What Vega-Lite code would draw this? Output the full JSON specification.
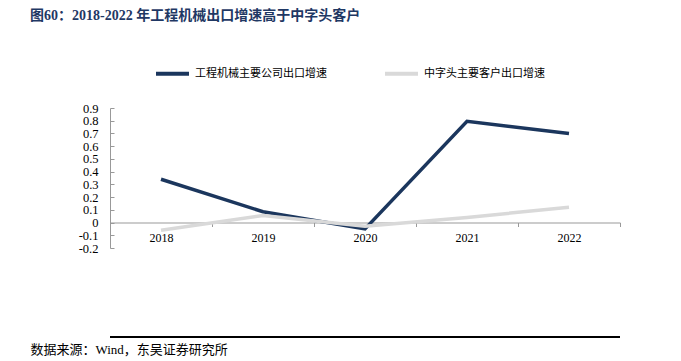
{
  "$schema": "https://vega.github.io/schema/vega-lite/v6.json",
  "width": 510,
  "height": 140,
  "autosize": {"type": "none"},
  "padding": {"left": 110, "top": 108, "right": 61, "bottom": 113},
  "background": "white",
  "title": {
    "text": "图60：2018-2022 年工程机械出口增速高于中字头客户",
    "anchor": "start",
    "frame": "group",
    "dx": -80,
    "offset": 32,
    "font": "Liberation Serif, Noto Sans CJK SC",
    "fontSize": 14,
    "fontWeight": "bold",
    "color": "#1F3864"
  },
  "data": {
    "values": [
      {"year": "2018", "series": "工程机械主要公司出口增速", "value": 0.34},
      {"year": "2019", "series": "工程机械主要公司出口增速", "value": 0.085},
      {"year": "2020", "series": "工程机械主要公司出口增速", "value": -0.05},
      {"year": "2021", "series": "工程机械主要公司出口增速", "value": 0.795},
      {"year": "2022", "series": "工程机械主要公司出口增速", "value": 0.70},
      {"year": "2018", "series": "中字头主要客户出口增速", "value": -0.06},
      {"year": "2019", "series": "中字头主要客户出口增速", "value": 0.055},
      {"year": "2020", "series": "中字头主要客户出口增速", "value": -0.03},
      {"year": "2021", "series": "中字头主要客户出口增速", "value": 0.04},
      {"year": "2022", "series": "中字头主要客户出口增速", "value": 0.12}
    ]
  },
  "config": {
    "view": {"stroke": null},
    "axis": {"labelFont": "Liberation Serif", "labelFontSize": 12, "labelColor": "#000", "grid": false}
  },
  "layer": [
    {
      "mark": {"type": "line", "strokeWidth": 3.5},
      "encoding": {
        "x": {
          "field": "year",
          "type": "ordinal",
          "scale": {"paddingInner": 0, "paddingOuter": 0},
          "axis": {
            "labelAngle": 0,
            "offset": -25.5,
            "domainColor": "#999",
            "tickColor": "#999",
            "tickBand": "extent",
            "tickSize": 4,
            "labelPadding": 6,
            "title": "数据来源：Wind，东吴证券研究所",
            "titleFont": "Liberation Serif, Noto Sans CJK SC",
            "titleFontSize": 13,
            "titleFontWeight": "normal",
            "titleColor": "#000",
            "titleAnchor": "start",
            "titleAlign": "left",
            "titleBaseline": "middle",
            "titleX": -80,
            "titleY": 127
          }
        },
        "y": {
          "field": "value",
          "type": "quantitative",
          "scale": {"domain": [-0.2, 0.9], "nice": false, "zero": false},
          "axis": {
            "title": null,
            "values": [-0.2, -0.1, 0, 0.1, 0.2, 0.3, 0.4, 0.5, 0.6, 0.7, 0.8, 0.9],
            "labelExpr": "replace(format(datum.value, '.1~f'), '\u2212', '-')",
            "labelOverlap": false,
            "labelBound": false,
            "labelFontSize": 12.5,
            "domainColor": "#999",
            "tickColor": "#999",
            "tickSize": -4,
            "labelPadding": 16
          }
        },
        "color": {
          "field": "series",
          "type": "nominal",
          "scale": {
            "domain": ["工程机械主要公司出口增速", "中字头主要客户出口增速"],
            "range": ["#1B365D", "#D9D9D9"]
          },
          "legend": {
            "title": null,
            "orient": "none",
            "direction": "horizontal",
            "legendX": 44,
            "legendY": -53,
            "symbolType": "stroke",
            "symbolSize": 1089,
            "symbolStrokeWidth": 4,
            "labelFont": "Noto Sans CJK SC",
            "labelFontSize": 11,
            "labelColor": "#000",
            "columnPadding": 50,
            "padding": 0
          }
        }
      }
    },
    {
      "mark": {"type": "rule", "color": "#000", "strokeWidth": 1.5},
      "encoding": {
        "y": {
          "datum": -0.9,
          "type": "quantitative",
          "axis": {
            "title": null,
            "values": [-0.2, -0.1, 0, 0.1, 0.2, 0.3, 0.4, 0.5, 0.6, 0.7, 0.8, 0.9],
            "labelExpr": "replace(format(datum.value, '.1~f'), '\u2212', '-')",
            "labelOverlap": false,
            "labelBound": false,
            "labelFontSize": 12.5,
            "domainColor": "#999",
            "tickColor": "#999",
            "tickSize": -4,
            "labelPadding": 16
          }
        }
      }
    }
  ]
}
